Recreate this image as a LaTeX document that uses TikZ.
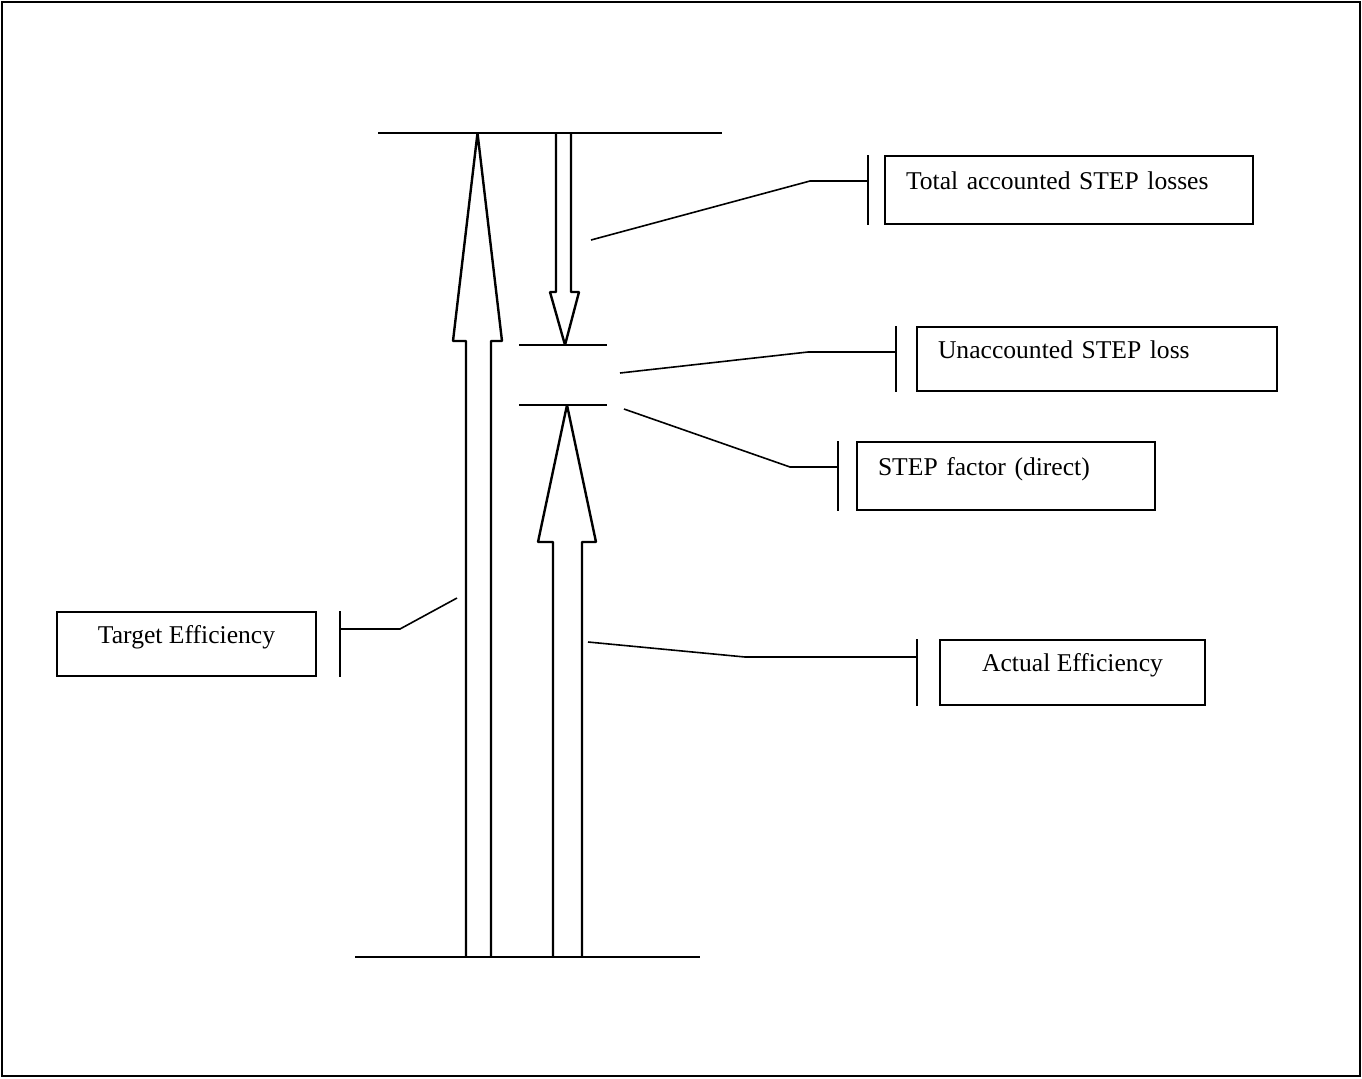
\documentclass[tikz,border=0pt]{standalone}
\usepackage{fontspec}
\setmainfont{Liberation Serif}
\usepackage{tikz}
\usetikzlibrary{calc, positioning}

\tikzset{
  callout/.style={draw, line width=0.9pt, inner ysep=0pt, text height=1.5ex, text depth=1.7ex,
    font=\fontsize{12.8}{15}\selectfont},
  leftcallout/.style={callout, align=left, inner xsep=10.5pt},
  bigarrow/.style={draw, fill=white, line width=1.2pt, line join=bevel},
  limit/.style={line width=1pt},
  leader/.style={line width=0.8pt},
  bar/.style={line width=0.9pt}
}

\begin{document}
\begin{tikzpicture}[x=0.5pt, y=-0.5pt]
  \useasboundingbox (0,0) rectangle (1362,1078);
  \draw[line width=0.8pt] (2,2) rectangle (1360,1076);

  % arrows
  \draw[bigarrow] (466,957) -- (466,341) -- (453,341) -- (477.5,133) -- (502,341) -- (491,341) -- (491,957);
  \draw[bigarrow] (553,957) -- (553,542) -- (538,542) -- (567,405) -- (596,542) -- (582,542) -- (582,957);
  \draw[bigarrow] (556,133) -- (556,292) -- (550,292) -- (565,345) -- (579,292) -- (571,292) -- (571,133);

  % limit lines
  \draw[limit] (378,133) -- (722,133);
  \draw[limit] (355,957) -- (700,957);
  \draw[limit] (519,345) -- (607,345);
  \draw[limit] (519,405) -- (607,405);

  % label boxes
  \node[leftcallout, text width=163pt, minimum height=34pt] (tot) at (1069,190) {Total accounted STEP losses};
  \node[leftcallout, text width=159pt, minimum height=32pt] (una) at (1097,359) {Unaccounted STEP loss};
  \node[leftcallout, text width=128pt, minimum height=34pt] (fac) at (1006,476) {STEP factor (direct)};
  \node[callout, minimum width=132.5pt, minimum height=32.5pt] (act) at (1072.5,672.5) {Actual Efficiency};
  \node[callout, minimum width=129.5pt, minimum height=32pt] (tar) at (186.5,644) {Target Efficiency};

  % bars beside the boxes
  \coordinate (totbar) at ([xshift=-8pt]tot.west);
  \coordinate (unabar) at ([xshift=-10pt]una.west);
  \coordinate (facbar) at ([xshift=-9pt]fac.west);
  \coordinate (actbar) at ([xshift=-11pt]act.west);
  \coordinate (tarbar) at ([xshift=11.5pt]tar.east);
  \foreach \b/\n in {totbar/tot, unabar/una, facbar/fac, actbar/act, tarbar/tar}
    \draw[bar] (\b |- \n.north) -- (\b |- \n.south);

  % leaders
  \coordinate (totpt) at (591,240);  \coordinate (totknee) at (810,181);
  \coordinate (unapt) at (620,373);  \coordinate (unaknee) at (808,352);
  \coordinate (facpt) at (624,409);  \coordinate (facknee) at (790,467);
  \coordinate (actpt) at (588,642);  \coordinate (actknee) at (745,657);
  \coordinate (tarpt) at (457,598);  \coordinate (tarknee) at (400,629);
  \foreach \n in {tot, una, fac, act, tar}
    \draw[leader] (\n pt) -- (\n knee) -- (\n knee -| \n bar);
\end{tikzpicture}
\end{document}
